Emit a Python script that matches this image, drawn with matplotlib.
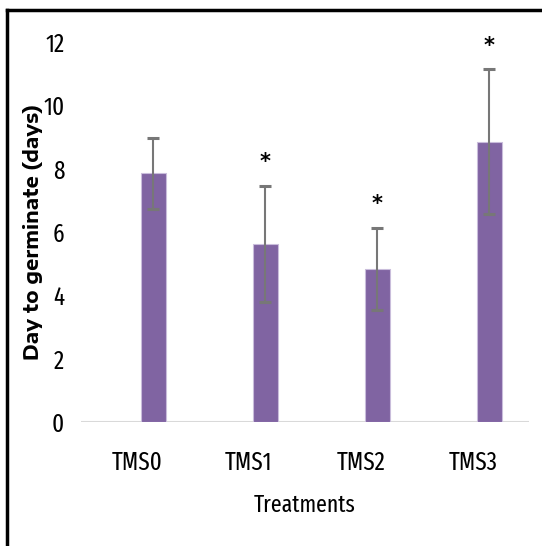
import matplotlib
matplotlib.use('Agg')
import matplotlib.pyplot as plt
from matplotlib.lines import Line2D
import numpy as np

# Mean days to germinate per treatment, with error bars
treatments = ['TMS0', 'TMS1', 'TMS2', 'TMS3']
days = [7.85, 5.62, 4.83, 8.85]
errors = [1.11, 1.83, 1.29, 2.29]
significant = [False, True, True, True]

narrow = ['Fira Sans Extra Condensed', 'DejaVu Sans']
wide = ['Encode Sans Expanded', 'DejaVu Sans']
bar_color = '#8064a2'

fig = plt.figure(figsize=(5.42, 5.46), dpi=100)
ax = fig.add_axes([0.1494, 0.2271, 0.8266, 0.6959])

x = np.arange(len(treatments))
offset = 0.147  # bars sit a little right of the category centre
ax.bar(x + offset, days, width=0.223, color=bar_color, edgecolor='#c9bddb',
       linewidth=0.8, zorder=2)
ax.errorbar(x + offset, days, yerr=errors, fmt='none', ecolor='#777777',
            elinewidth=1.5, capsize=4, capthick=2.2, zorder=3)

# asterisks over the treatments that differ from the control
for xi, d, e, s in zip(x, days, errors, significant):
    if s:
        ax.text(xi + offset, d + e + 0.75, '*', ha='center', va='center',
                fontsize=15, fontweight='bold', color='black')

ax.set_xlim(-0.5, 3.5)
ax.set_ylim(0, 12)
ax.set_yticks(range(0, 13, 2))
ax.set_xticks(x)
ax.set_xticklabels(treatments, family=narrow, fontsize=18, fontweight='normal')
for lab in ax.get_yticklabels():
    lab.set_family(narrow)
    lab.set_fontsize(18)
    lab.set_fontweight('normal')
ax.tick_params(length=0)
ax.tick_params(axis='y', pad=12)
ax.tick_params(axis='x', pad=20)

for side in ['top', 'right', 'left', 'bottom']:
    ax.spines[side].set_visible(False)
ax.axhline(0, color='#d9d9d9', linewidth=1.5, zorder=1)

ax.set_xlabel('Treatments', family=narrow, fontsize=17, fontweight='normal',
              va='center')
ax.xaxis.set_label_coords(0.5, -0.218)
ax.set_ylabel('Day to germinate (days)', family=wide, fontsize=14,
              fontweight='bold', va='center')
ax.yaxis.set_label_coords(-0.108, 0.5)

# outer frame on the top and left edges
fig.add_artist(Line2D([0.013, 1.0], [0.982, 0.982], color='black', linewidth=2.5,
                      transform=fig.transFigure))
fig.add_artist(Line2D([0.013, 0.013], [0.0, 0.982], color='black', linewidth=2.5,
                      transform=fig.transFigure))

fig.savefig('out.png', dpi=100)
